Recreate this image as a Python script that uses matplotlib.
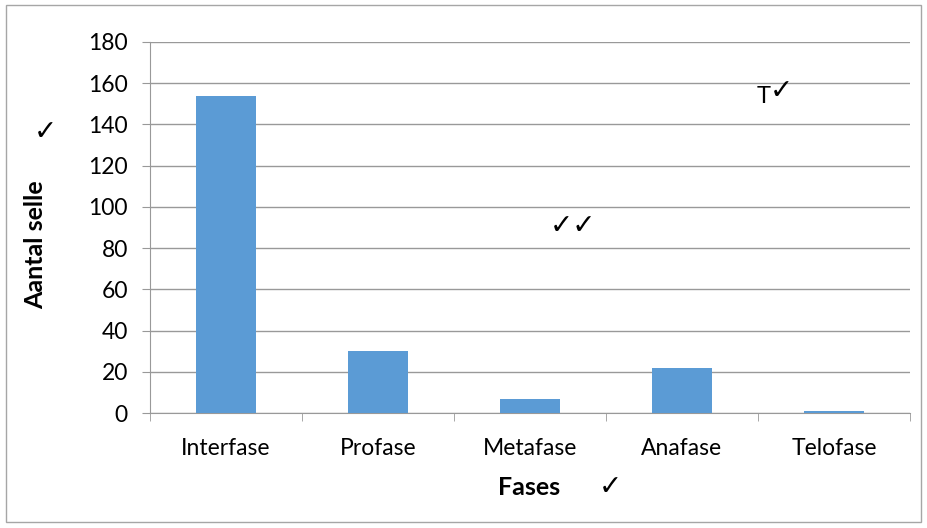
import matplotlib.pyplot as plt
import numpy as np
from matplotlib.patches import Rectangle

fases = ["Interfase", "Profase", "Metafase", "Anafase", "Telofase"]
aantal = [154, 30, 7, 22, 1]
y_ticks = list(range(0, 181, 20))

plt.rcParams['font.family'] = ['Lato', 'DejaVu Sans']

fig = plt.figure(figsize=(9.27, 5.28), dpi=100)
fig.patches.append(Rectangle((0.006, 0.012), 0.988, 0.978, transform=fig.transFigure,
                             fill=False, edgecolor='#a6a6a6', lw=1))

ax = fig.add_axes([150 / 927, 115 / 528, 760 / 927, 371 / 528])
x = np.arange(len(fases))
ax.bar(x, aantal, width=0.4, color='#5b9bd5', zorder=3)

ax.set_xlim(-0.5, len(fases) - 0.5)
ax.set_ylim(0, 180)
ax.set_yticks(y_ticks)
ax.yaxis.grid(True, color='#999999', lw=1)
ax.set_axisbelow(True)
for s in ['top', 'right']:
    ax.spines[s].set_visible(False)
for s in ['left', 'bottom']:
    ax.spines[s].set_color('#999999')

ax.set_xticks(x)
ax.set_xticklabels(fases)
ax.tick_params(axis='x', length=0, labelsize=16.5, pad=18)
ax.set_xticks(np.arange(-0.5, len(fases)), minor=True)
ax.tick_params(axis='x', which='minor', length=6, color='#999999')
ax.tick_params(axis='y', length=6, color='#999999', labelsize=16.5, pad=10)

ax.set_xlabel("Fases", fontsize=18, fontweight='bold', va='center')
ax.xaxis.set_label_coords(0.499, -0.202)
ax.set_ylabel("Aantal selle", fontsize=18, fontweight='bold', va='center')
ax.yaxis.set_label_coords(-0.151, 0.453)

# handwritten-style marks
ck = dict(fontsize=20, fontweight='bold', va='center', family='DejaVu Sans')
fig.text(45 / 927, 1 - 132 / 528, "✓", ha='center', **ck)
fig.text(573 / 927, 1 - 226 / 528, "✓✓", ha='center', **ck)
fig.text(771 / 927, 1 - 96 / 528, "T", fontsize=17, ha='right', va='center')
fig.text(770 / 927, 1 - 91 / 528, "✓", ha='left', **ck)
fig.text(610 / 927, 1 - 487 / 528, "✓", ha='center', **ck)

fig.savefig("out.png", dpi=100)
